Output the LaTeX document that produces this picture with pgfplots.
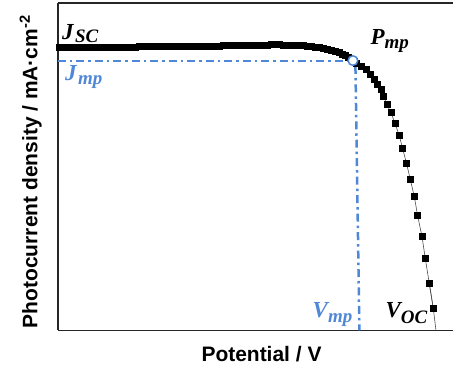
\documentclass[border=0pt]{standalone}
\usepackage{pgfplots}
\pgfplotsset{compat=1.18}
\usepackage{fontspec}
\setmainfont{Liberation Serif}
\setsansfont{Liberation Sans}
\definecolor{bl}{RGB}{80,135,215}
\begin{document}
\begin{tikzpicture}
\begin{axis}[
  scale only axis, width=396pt, height=328pt,
  xmin=58, xmax=454, ymin=3, ymax=331, y dir=reverse,
  axis x line=box, axis y line=left, axis line style={-, line width=1.5pt, black!85},
  xtick=\empty, ytick=\empty, clip=false,
  xlabel={\sffamily\bfseries\fontsize{21}{24}\selectfont Potential / V},
  ylabel={\sffamily\bfseries\fontsize{21}{24}\selectfont Photocurrent density / mA·cm\textsuperscript{-2}},
  xlabel style={at={(axis description cs:0.515,-0.0945)}, anchor=base, inner sep=0pt},
  ylabel style={at={(axis description cs:-0.0518,0.485)}, anchor=base, inner sep=0pt},
]
\draw[draw=none] (axis description cs:-0.1465,-0.1189) rectangle (axis description cs:1,1.0091);
% J-V curve (pixel-like coordinates)
\pgfplotstableread{
x y
60 47.5
64 47.6
68 47.5
72 47.6
76 47.7
80 47.6
84 47.5
88 47.6
92 47.7
96 47.6
100 47.5
104 47.5
108 47.4
112 47.4
116 47.3
120 47.3
124 47.2
128 47.2
132 47.1
136 47.1
140 47.0
144 47.0
148 46.9
152 46.9
156 46.8
160 46.8
164 46.8
168 46.7
172 46.7
176 46.6
180 46.6
184 46.5
188 46.5
192 46.5
196 46.4
200 46.4
204 46.3
208 46.3
212 46.2
216 46.2
220 46.1
224 46.0
228 46.0
232 45.9
236 45.8
240 45.8
244 45.7
248 45.6
252 45.5
256 45.4
260 45.3
264 45.2
268 45.1
272 45.0
276 45.0
280 45.0
284 45.1
288 45.2
292 45.3
296 45.5
300 45.7
304 46.0
308 46.3
312 46.7
316 47.2
320 47.8
324 48.5
328 49.3
332 50.3
336 51.5
340 52.9
343 54.2
346 55.7
349 57.3
352 59.2
355 61.5
357.5 63.5
361.7 66.7
366.7 70
370.7 75
375 80
378 85
381.7 90
384.3 96.7
387.7 105
391.7 113
395.7 124
400 136
403.3 149
407.3 164
411 180
415 197
418.3 216
422.7 237
426 259
430 284
434 309
}\jv
\addplot[draw=black!70, line width=0.6pt] coordinates {(430,284)(434,309)(436.7,331)};
\addplot[draw=black!70, line width=0.6pt, mark=square*, mark size=3pt, mark options={fill=black, draw=black, line width=0pt}] table[x=x,y=y] {\jv};
% max power point guides
\addplot[draw=bl, line width=2.5pt, dash pattern=on 8pt off 4pt on 2.5pt off 4pt] coordinates {(58,61) (348,61)};
\addplot[draw=bl, line width=2.5pt, dash pattern=on 8pt off 4pt on 2.5pt off 4pt] coordinates {(356,66) (360,331)};
\addplot[only marks, mark=*, mark size=4.8pt, mark options={draw=bl, fill=white, line width=1.5pt}] coordinates {(353.5,60.7)};
% labels
\node[anchor=base west, inner sep=0pt, font=\bfseries\itshape\fontsize{23}{26}\selectfont] at (axis cs:62,40) {J\kern1.5pt\raisebox{-3pt}{\fontsize{19}{20}\selectfont SC}};
\node[anchor=base west, inner sep=0pt, font=\bfseries\itshape\fontsize{23}{26}\selectfont] at (axis cs:371,45) {P\raisebox{-4pt}{\fontsize{19}{20}\selectfont mp}};
\node[anchor=base west, inner sep=0pt, text=bl, font=\bfseries\itshape\fontsize{23}{26}\selectfont] at (axis cs:65,81) {J\kern1.5pt\raisebox{-4pt}{\fontsize{19}{20}\selectfont mp}};
\node[anchor=base west, inner sep=0pt, text=bl, font=\bfseries\itshape\fontsize{23}{26}\selectfont] at (axis cs:313,318) {V\raisebox{-5pt}{\fontsize{19}{20}\selectfont mp}};
\node[anchor=base west, inner sep=0pt, font=\bfseries\itshape\fontsize{23}{26}\selectfont] at (axis cs:386,318) {V\raisebox{-6pt}{\fontsize{19}{20}\selectfont OC}};
\end{axis}
\end{tikzpicture}
\end{document}
